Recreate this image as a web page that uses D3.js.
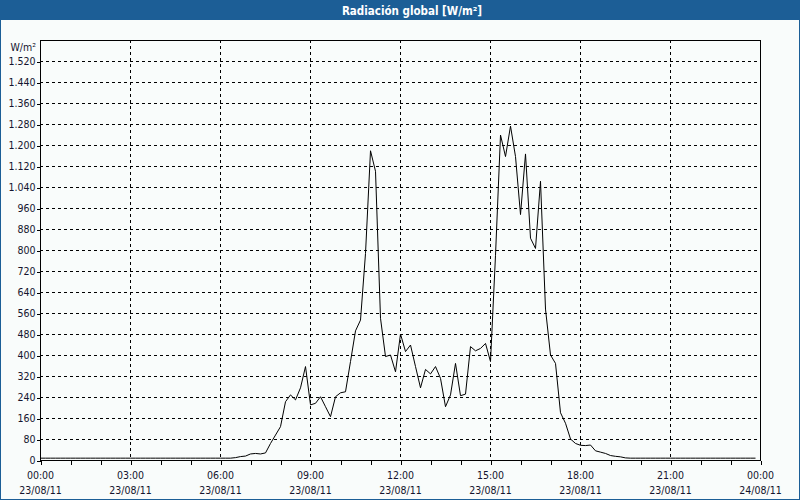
<!DOCTYPE html>
<html>
<head>
<meta charset="utf-8">
<script src="https://cdn.jsdelivr.net/npm/d3@7"></script>
<style>
  html, body { margin: 0; padding: 0; background: #ffffff; }
  svg { display: block; }
  text { font-family: "DejaVu Sans Condensed", "DejaVu Sans", sans-serif; font-stretch: condensed; }
</style>
</head>
<body>
<svg id="chart" width="800" height="500"></svg>
<script>
// ---- data ----
const chartTitle = "Radiación global [W/m²]";
const unitLabel = "W/m²";
const sampleStepMinutes = 10; // one reading every 10 minutes, from 00:00 to 23:50
const values = [
  7,7,7,7,7,7,7,7,7,7,
  7,7,7,7,7,7,7,7,7,7,
  7,7,7,7,7,7,7,7,7,7,
  7,7,7,7,7,7,7,7,7,9,
  13,15,23,25,23,27,63,95,127,222,
  248,229,275,356,210,216,241,203,165,241,
  256,260,375,492,533,787,1178,1100,540,394,
  400,336,480,413,438,356,275,345,328,356,
  311,203,248,368,245,251,432,416,425,444,
  375,780,1238,1156,1272,1156,935,1166,845,806,
  1062,575,400,368,180,140,80,63,56,55,
  57,35,30,25,17,14,12,8,7,7,
  7,7,7,7,7,7,7,7,7,7,
  7,7,7,7,7,7,7,7,7,7,
  7,7,7,7
];
const yTicks = [0,80,160,240,320,400,480,560,640,720,800,880,960,1040,1120,1200,1280,1360,1440,1520];
const yMax = 1600;
const xMajorHours = [0,3,6,9,12,15,18,21,24];
const xTimeLabels = ["00:00","03:00","06:00","09:00","12:00","15:00","18:00","21:00","00:00"];
const xDateLabels = ["23/08/11","23/08/11","23/08/11","23/08/11","23/08/11","23/08/11","23/08/11","23/08/11","24/08/11"];
const xMinorHours = d3.range(0, 25);

// ---- layout ----
const W = 800, H = 500;
const plot = { left: 40, right: 760, top: 40, bottom: 460 };
const blue = "#1c5e96";
const ink = "#14142e";

const svg = d3.select("#chart");
svg.append("rect").attr("x", 0).attr("y", 0).attr("width", W).attr("height", H).attr("fill", "#f9fcfb");
svg.append("rect").attr("x", 0).attr("y", 0).attr("width", W).attr("height", 20).attr("fill", blue);
svg.append("rect").attr("x", 0.5).attr("y", 0.5).attr("width", W - 1).attr("height", H - 1)
  .attr("fill", "none").attr("stroke", blue).attr("stroke-width", 1);

svg.append("text").attr("x", 412).attr("y", 14.5).attr("text-anchor", "middle")
  .attr("fill", "#ffffff").attr("font-weight", "bold").attr("font-size", "11.5px")
  .text(chartTitle);

const x = d3.scaleLinear().domain([0, 24]).range([plot.left, plot.right]);
const y = d3.scaleLinear().domain([0, yMax]).range([plot.bottom, plot.top]);

const fmt = d3.formatLocale({ decimal: ",", thousands: ".", grouping: [3], currency: ["", ""] }).format(",d");

const g = svg.append("g").attr("shape-rendering", "crispEdges");

// grid
g.selectAll("line.hgrid").data(yTicks.filter(v => v > 0)).join("line")
  .attr("class", "hgrid")
  .attr("x1", plot.left).attr("x2", plot.right)
  .attr("y1", d => Math.round(y(d)) + 0.5).attr("y2", d => Math.round(y(d)) + 0.5)
  .attr("stroke", "#000").attr("stroke-dasharray", "3,3");
g.selectAll("line.vgrid").data(xMajorHours.filter(h => h > 0 && h < 24)).join("line")
  .attr("class", "vgrid")
  .attr("x1", d => Math.round(x(d)) + 0.5).attr("x2", d => Math.round(x(d)) + 0.5)
  .attr("y1", plot.top).attr("y2", plot.bottom)
  .attr("stroke", "#000").attr("stroke-dasharray", "3,3");

// frame
g.append("rect").attr("x", plot.left + 0.5).attr("y", plot.top + 0.5)
  .attr("width", plot.right - plot.left).attr("height", plot.bottom - plot.top)
  .attr("fill", "none").attr("stroke", "#000");

// y axis
const yAxis = d3.axisLeft(y).tickValues(yTicks).tickSize(4).tickPadding(1).tickFormat(fmt);
const yg = svg.append("g").attr("transform", `translate(${plot.left + 0.5},0.5)`).call(yAxis);
yg.select(".domain").remove();
yg.selectAll("line").attr("stroke", "#000").attr("shape-rendering", "crispEdges");
yg.selectAll("text").attr("font-size", "10.5px").attr("fill", ink)
  .attr("font-family", "'DejaVu Sans Condensed', 'DejaVu Sans', sans-serif");

svg.append("text").attr("x", 36).attr("y", 50.5).attr("text-anchor", "end")
  .attr("font-size", "10.5px").attr("fill", ink).text(unitLabel);

// x axis (hourly ticks)
const xAxis = d3.axisBottom(x).tickValues(xMinorHours).tickSize(4).tickFormat("");
const xg = svg.append("g").attr("transform", `translate(0.5,${plot.bottom + 0.5})`).call(xAxis);
xg.select(".domain").remove();
xg.selectAll("line").attr("stroke", "#000").attr("shape-rendering", "crispEdges");

const xl = svg.append("g");
xl.selectAll("text.t").data(xMajorHours).join("text").attr("class", "t")
  .attr("x", d => x(d) + 0.5).attr("y", 479).attr("text-anchor", "middle")
  .attr("font-size", "10.5px").attr("fill", ink).text((d, i) => xTimeLabels[i]);
xl.selectAll("text.d").data(xMajorHours).join("text").attr("class", "d")
  .attr("x", d => x(d) + 0.5).attr("y", 494).attr("text-anchor", "middle")
  .attr("font-size", "10.5px").attr("fill", ink).text((d, i) => xDateLabels[i]);

// data line
const line = d3.line()
  .x((d, i) => x(i * sampleStepMinutes / 60))
  .y(d => y(d));
svg.append("path").datum(values)
  .attr("d", line)
  .attr("fill", "none").attr("stroke", "#000").attr("stroke-width", 1)
  .attr("transform", "translate(0.5,0)");
</script>
</body>
</html>
